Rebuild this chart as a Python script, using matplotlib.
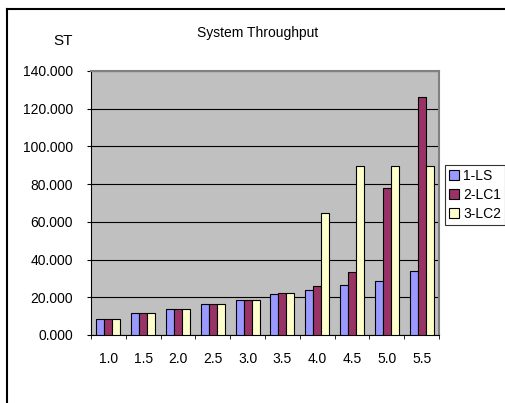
import matplotlib
matplotlib.use("Agg")
import matplotlib.pyplot as plt
import numpy as np
from matplotlib.lines import Line2D

# data
categories = ["1.0", "1.5", "2.0", "2.5", "3.0", "3.5", "4.0", "4.5", "5.0", "5.5"]
ls = [8.5, 11.6, 13.7, 16.4, 18.6, 21.7, 23.8, 26.6, 28.8, 34.0]
lc1 = [8.5, 11.6, 13.7, 16.4, 18.6, 22.2, 26.0, 33.4, 78.2, 126.3]
lc2 = [8.5, 11.6, 13.7, 16.4, 18.6, 22.2, 64.7, 89.8, 89.8, 89.8]
series_names = ["1-LS", "2-LC1", "3-LC2"]
colors = ["#9999FF", "#993366", "#FFFFCC"]
yticks = [0, 20, 40, 60, 80, 100, 120, 140]

plt.rcParams['font.family'] = ['Liberation Sans', 'DejaVu Sans']

fig = plt.figure(figsize=(5.06, 4.03), dpi=100)
W, H = 506, 403

# outer chart frame: only left and top edges are inside the picture
fx, fy = 7.5 / W, 1 - 9 / H
fig.add_artist(Line2D([fx, fx], [0, fy], transform=fig.transFigure, color="black", linewidth=1.5))
fig.add_artist(Line2D([fx, 1.0], [fy, fy], transform=fig.transFigure, color="black", linewidth=1.5))

ax = fig.add_axes([91 / W, 1 - 335 / H, (439 - 91) / W, (335 - 71) / H])
ax.set_facecolor("#C0C0C0")

x = np.arange(len(categories))
w = 0.23
for i, (vals, name, c) in enumerate(zip([ls, lc1, lc2], series_names, colors)):
    ax.bar(x + (i - 1) * w, vals, width=w, color=c, edgecolor="black", linewidth=0.8,
           label=name, zorder=3)

ax.set_xlim(-0.5, len(categories) - 0.5)
ax.set_ylim(0, 140)
ax.set_yticks(yticks)
ax.set_yticklabels(["%.3f" % v for v in yticks], fontsize=10)
ax.yaxis.grid(True, color="black", linewidth=0.8, zorder=0)
ax.set_axisbelow(True)

ax.set_xticks(x)
ax.set_xticklabels(categories, fontsize=10)
ax.tick_params(axis="x", length=0, pad=12)
ax.set_xticks(np.arange(len(categories) + 1) - 0.5, minor=True)
ax.tick_params(axis="x", which="minor", length=3, direction="out")
ax.tick_params(axis="y", length=3, direction="out", pad=10)

for s in ["left", "bottom"]:
    ax.spines[s].set_color("black")
for s in ["top", "right"]:
    ax.spines[s].set_color("#808080")
    ax.spines[s].set_linewidth(1.5)

fig.text(258 / W, 1 - 33 / H, "System Throughput", ha="center", va="center", fontsize=10)
fig.text(63 / W, 1 - 41 / H, "ST", ha="center", va="center", fontsize=11)

leg = fig.legend(loc="upper left", bbox_to_anchor=(445 / W, 1 - 165 / H), fontsize=10,
                 frameon=True, fancybox=False, edgecolor="black", handlelength=0.7,
                 handleheight=0.7, handletextpad=0.3, borderpad=0.3, labelspacing=0.35,
                 borderaxespad=0)
leg.get_frame().set_linewidth(0.8)

fig.savefig("out.png", dpi=100)
